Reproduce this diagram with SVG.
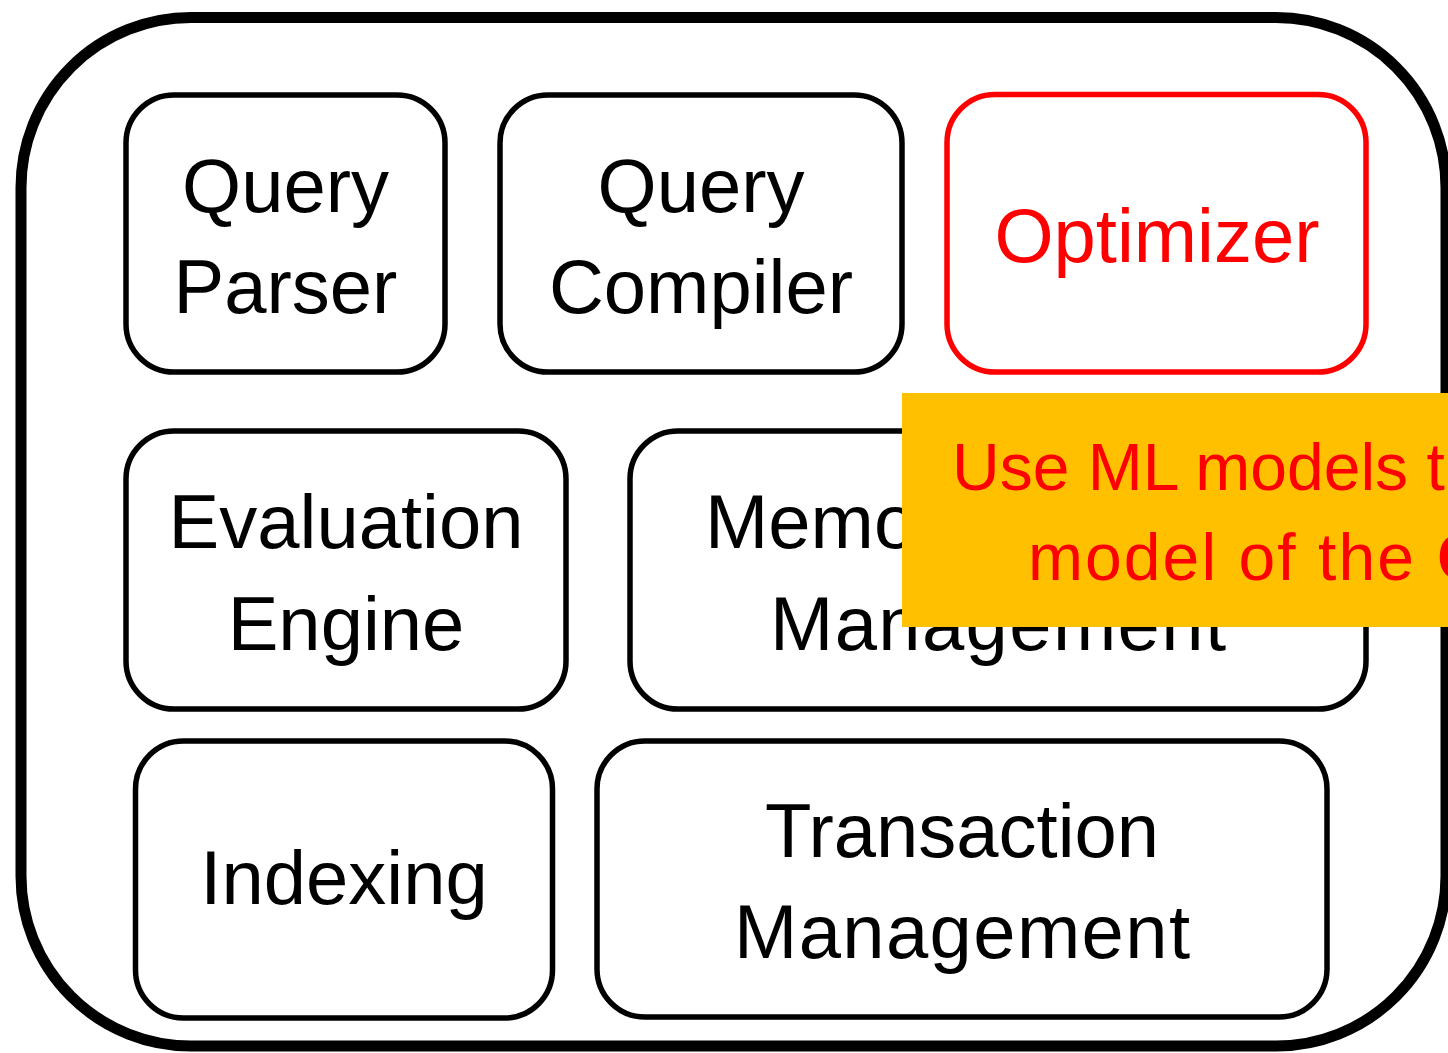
<svg xmlns="http://www.w3.org/2000/svg" width="1448" height="1053" viewBox="0 0 1448 1053">
<style>
.box{fill:#fff;stroke:#000;stroke-width:5.5}
.red{fill:#fff;stroke:#FF0000;stroke-width:5.5}
.t{font-family:"Liberation Sans",Arial,sans-serif;font-size:76px;fill:#000;text-anchor:middle}
.tr{font-family:"Liberation Sans",Arial,sans-serif;font-size:76px;fill:#FF0000;text-anchor:middle}
.note{font-family:"Liberation Sans",Arial,sans-serif;font-size:66px;fill:#FF0000}
</style>
<rect width="1448" height="1053" fill="#fff"/>
<g id="container">
<rect x="21" y="17.5" width="1425" height="1028.5" rx="170" ry="170" fill="#fff" stroke="#000" stroke-width="11"/>
</g>
<g id="query-parser">
<rect class="box" x="126" y="95" width="319" height="277" rx="48"/>
<text class="t" x="285.5" y="212">Query</text>
<text class="t" x="285.5" y="313">Parser</text>
</g>
<g id="query-compiler">
<rect class="box" x="500" y="95" width="402" height="277" rx="48"/>
<text class="t" x="701" y="212">Query</text>
<text class="t" x="701" y="313">Compiler</text>
</g>
<g id="optimizer">
<rect class="red" x="947" y="94.5" width="419" height="277.5" rx="48"/>
<text class="tr" x="1157" y="262">Optimizer</text>
</g>
<g id="evaluation-engine">
<rect class="box" x="126" y="431" width="440" height="278" rx="48"/>
<text class="t" x="346" y="548">Evaluation</text>
<text class="t" x="346" y="650">Engine</text>
</g>
<g id="memory-management">
<rect class="box" x="630" y="431" width="736" height="278" rx="48"/>
<text class="t" x="705" y="548" style="text-anchor:start">Memory</text>
<text class="t" x="998" y="650" textLength="456" lengthAdjust="spacing">Management</text>
</g>
<g id="indexing">
<rect class="box" x="135.5" y="741" width="417" height="277" rx="48"/>
<text class="t" x="344" y="904">Indexing</text>
</g>
<g id="transaction-management">
<rect class="box" x="597" y="741" width="730" height="276" rx="48"/>
<text class="t" x="962" y="857">Transaction</text>
<text class="t" x="962" y="958" textLength="456" lengthAdjust="spacing">Management</text>
</g>
<g id="note">
<rect x="902" y="393" width="560" height="234" fill="#FFC000"/>
<text class="note" x="952" y="490">Use ML models t</text>
<text class="note" y="580"><tspan x="1028" textLength="386" lengthAdjust="spacing">model of the</tspan><tspan x="1437" font-weight="bold">C</tspan></text>
</g>
<g id="connectors"></g>
</svg>
